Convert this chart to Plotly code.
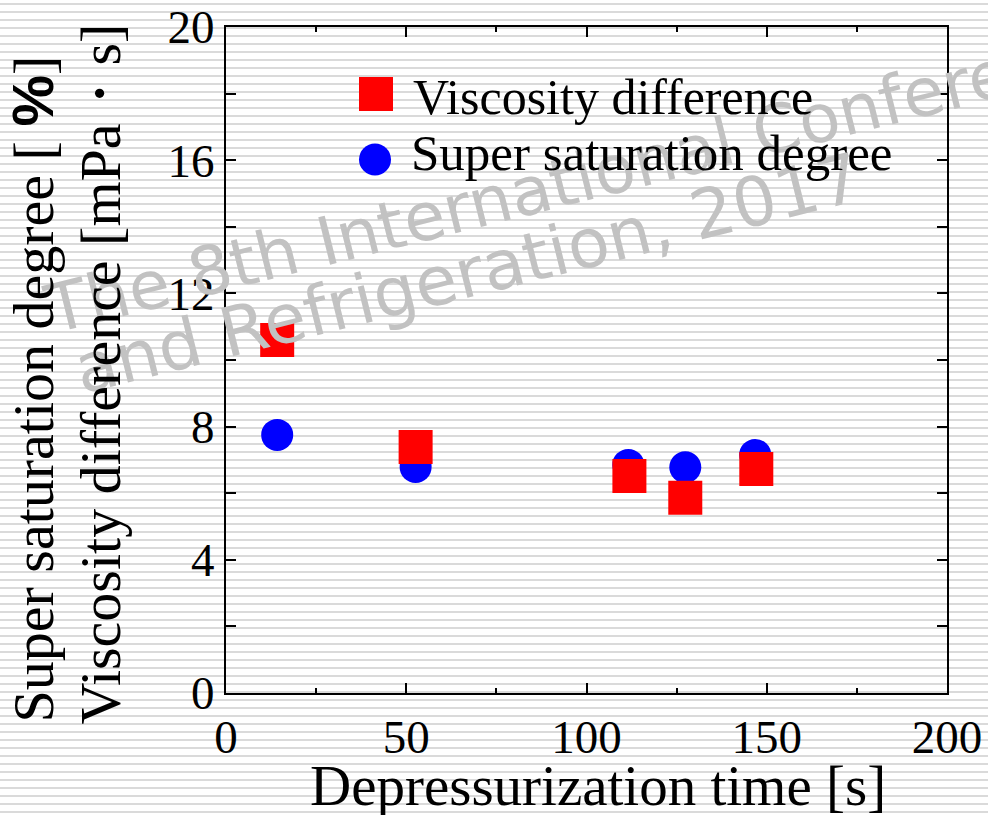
import plotly.graph_objects as go

# ---- data ----
time_visc = [14.2, 52.6, 111.9, 127.4, 147.1]
visc_diff = [10.6, 7.39, 6.52, 5.86, 6.73]
time_super = [14.2, 52.6, 111.6, 127.4, 146.8]
super_sat = [7.75, 6.79, 6.85, 6.78, 7.15]

x_ticks = [0, 50, 100, 150, 200]
y_ticks = [0, 4, 8, 12, 16, 20]

legend_names = ["Viscosity difference", "Super saturation degree"]
x_title = "Depressurization time [s]"
y_title_1 = 'Super saturation degree [ <span style="font-family:Liberation Sans"><b>%</b></span>]'
y_title_2 = "Viscosity difference [mPa・s]"
watermark_1 = "The 8th International Conference on Compressors"
watermark_2 = "and Refrigeration, 2017"

# ---- layout geometry (pixels) ----
W, H = 988, 815
L, R, T, B = 226, 41, 27, 122
PW, PH = W - L - R, H - T - B


def px(xp):
    return (xp - L) / PW


def py(yp):
    return (H - B - yp) / PH


SERIF = "Liberation Serif"

fig = go.Figure()
fig.add_trace(go.Scatter(x=time_super, y=super_sat, mode="markers",
                         name=legend_names[1],
                         marker=dict(symbol="circle", size=32, color="#0000ff",
                                     line=dict(width=0))))
fig.add_trace(go.Scatter(x=time_visc, y=visc_diff, mode="markers",
                         name=legend_names[0],
                         marker=dict(symbol="square", size=34, color="#ff0000",
                                     line=dict(width=0))))

shapes = []
# striped background
k = 0
while 4 + 8 * k < H:
    yy = 4 + 8 * k
    shapes.append(dict(type="line", xref="paper", yref="paper",
                       x0=px(0), x1=px(W), y0=py(yy), y1=py(yy),
                       line=dict(color="#dadada", width=2), layer="below"))
    k += 1

# legend symbols
shapes.append(dict(type="rect", xref="paper", yref="paper",
                   x0=px(359), x1=px(393), y0=py(111), y1=py(77),
                   fillcolor="#ff0000", line=dict(width=0)))
shapes.append(dict(type="circle", xref="paper", yref="paper",
                   x0=px(359), x1=px(391), y0=py(175.5), y1=py(143.5),
                   fillcolor="#0000ff", line=dict(width=0)))

annotations = [
    dict(text=watermark_1, xref="paper", yref="paper", x=px(35), y=py(352),
         xanchor="left", yanchor="bottom", textangle=-14, showarrow=False,
         font=dict(family="DejaVu Sans", size=67, color="#c2c2c2")),
    dict(text=watermark_2, xref="paper", yref="paper", x=px(64), y=py(412),
         xanchor="left", yanchor="bottom", textangle=-14, showarrow=False,
         font=dict(family="DejaVu Sans", size=68, color="#c2c2c2")),
    dict(text=legend_names[0], xref="paper", yref="paper", x=px(411), y=py(97),
         xanchor="left", yanchor="middle", showarrow=False,
         font=dict(family=SERIF, size=50, color="black")),
    dict(text=legend_names[1], xref="paper", yref="paper", x=px(409), y=py(153),
         xanchor="left", yanchor="middle", showarrow=False,
         font=dict(family=SERIF, size=51, color="black")),
    dict(text=x_title, xref="paper", yref="paper", x=px(598), y=py(785),
         xanchor="center", yanchor="middle", showarrow=False,
         font=dict(family=SERIF, size=57, color="black")),
    dict(text=y_title_1, xref="paper", yref="paper", x=px(32), y=py(725),
         xanchor="center", yanchor="bottom", textangle=-90, showarrow=False,
         font=dict(family=SERIF, size=58, color="black")),
    dict(text=y_title_2, xref="paper", yref="paper", x=px(100), y=py(727),
         xanchor="center", yanchor="bottom", textangle=-90, showarrow=False,
         font=dict(family=SERIF, size=58, color="black")),
]

axis_common = dict(showgrid=False, zeroline=False, showline=True,
                   linecolor="black", linewidth=2, mirror="ticks",
                   ticks="inside", tickcolor="black", tickwidth=2,
                   automargin=False,
                   tickfont=dict(family=SERIF, size=47, color="black"))

fig.update_layout(
    width=W, height=H,
    margin=dict(l=L, r=R, t=T, b=B, pad=0, autoexpand=False),
    paper_bgcolor="white", plot_bgcolor="rgba(0,0,0,0)",
    showlegend=False,
    shapes=shapes, annotations=annotations,
    xaxis=dict(range=[0, 200], tickvals=x_ticks, ticklen=10,
               minor=dict(dtick=25, ticklen=5, ticks="inside",
                          tickcolor="black", tickwidth=2, showgrid=False),
               ticklabelstandoff=2, **axis_common),
    yaxis=dict(range=[0, 20], tickvals=y_ticks, ticklen=10,
               minor=dict(dtick=2, ticklen=10, ticks="inside",
                          tickcolor="black", tickwidth=2, showgrid=False),
               ticklabelstandoff=0, **axis_common),
)

fig.write_html("out.html")
